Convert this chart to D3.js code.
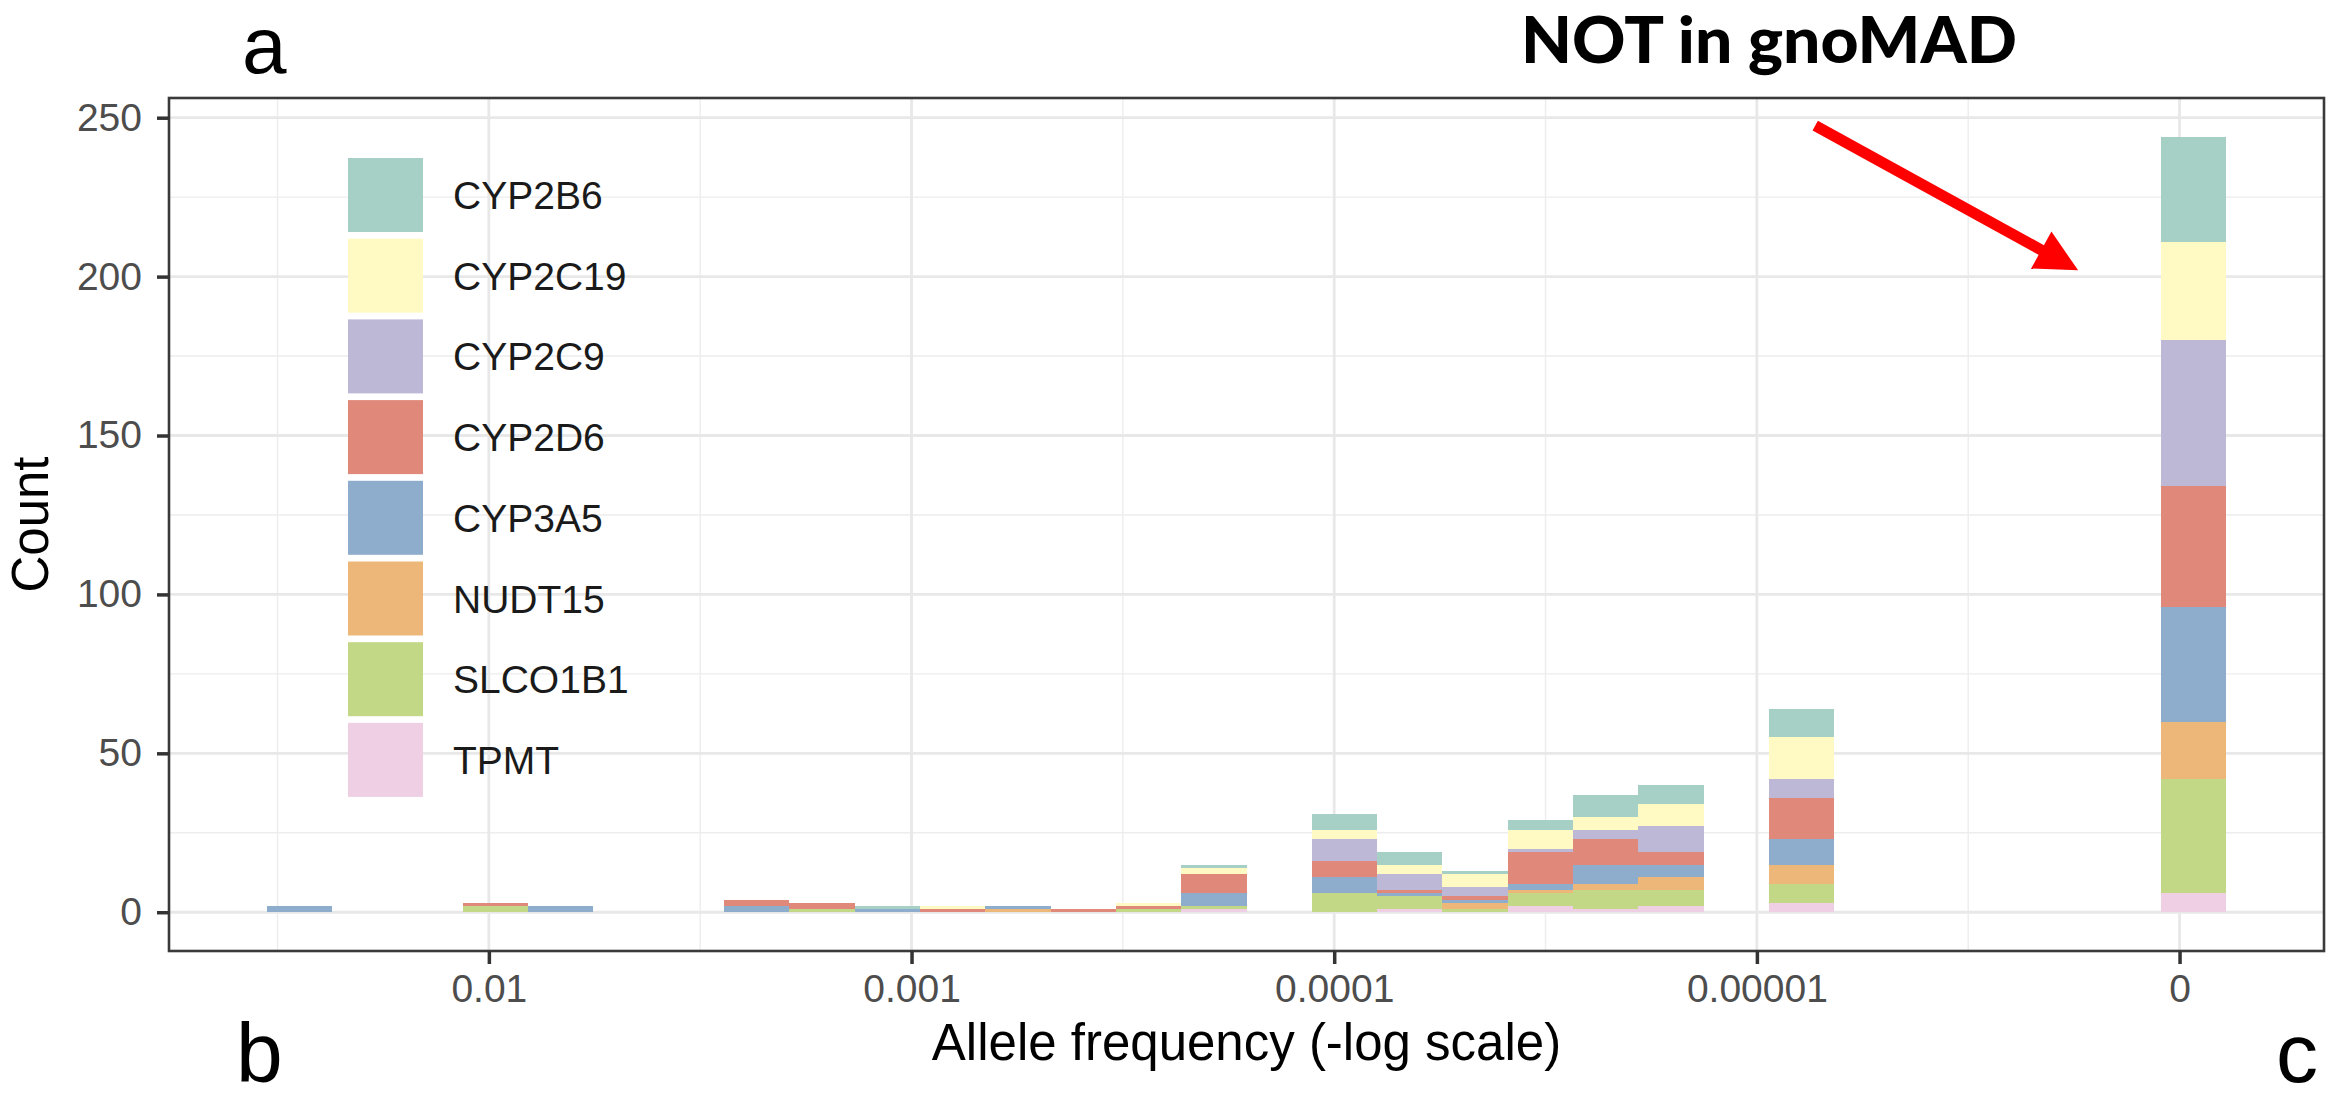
<!DOCTYPE html>
<html>
<head>
<meta charset="utf-8">
<script src="https://cdn.jsdelivr.net/npm/d3@7"></script>
<style>
  html, body { margin: 0; padding: 0; background: #ffffff; }
  svg { display: block; }
</style>
</head>
<body>
<div id="chart"></div>
<script>
// genes, legend order (top of stack first)
const genes = ['CYP2B6', 'CYP2C19', 'CYP2C9', 'CYP2D6', 'CYP3A5', 'NUDT15', 'SLCO1B1', 'TPMT'];
const geneColors = ['#a6cfc5', '#fff9c4', '#bdb8d6', '#e0897a', '#8eaccb', '#edb77a', '#c2d887', '#efcfe3'];

// histogram bins on -log10(allele frequency), 30 bins; the last one holds the variants not in gnoMAD
const binStart = 1.475;
const binWidth = 0.1545;

// counts per bin for each gene
const CYP2B6  = [0,0,0,0,0,0,0,0,0,1,0,0,0,0,1,0,5,4,1,3,7,6,0,9,0,0,0,0,0,33];
const CYP2C19 = [0,0,0,0,0,0,0,0,0,0,1,0,0,1,2,0,3,3,4,6,4,7,0,13,0,0,0,0,0,31];
const CYP2C9  = [0,0,0,0,0,0,0,0,0,0,0,0,0,0,0,0,7,5,3,1,3,8,0,6,0,0,0,0,0,46];
const CYP2D6  = [0,0,0,1,0,0,0,2,2,0,1,0,1,1,6,0,5,1,1,10,8,4,0,13,0,0,0,0,0,38];
const CYP3A5  = [2,0,0,0,2,0,0,2,0,1,0,1,0,0,4,0,5,1,1,2,6,4,0,8,0,0,0,0,0,36];
const NUDT15  = [0,0,0,0,0,0,0,0,0,0,0,1,0,0,0,0,0,0,2,1,2,4,0,6,0,0,0,0,0,18];
const SLCO1B1 = [0,0,0,2,0,0,0,0,1,0,0,0,0,1,1,0,6,4,1,4,6,5,0,6,0,0,0,0,0,36];
const TPMT    = [0,0,0,0,0,0,0,0,0,0,0,0,0,0,1,0,0,1,0,2,1,2,0,3,0,0,0,0,0,6];

// x ticks (-log10 value and label), y ticks
const xTickValues = [2, 3, 4, 5, 6];
const xTickLabels = ['0.01', '0.001', '0.0001', '0.00001', '0'];
const xMinorValues = [1.5, 2.5, 3.5, 4.5, 5.5];
const yTickValues = [0, 50, 100, 150, 200, 250];
const yMinorValues = [25, 75, 125, 175, 225];

const width = 2343;
const height = 1100;
const panel = { left: 169, right: 2324, top: 98, bottom: 951 };
const font = '"Liberation Sans", Arial, Helvetica, sans-serif';

const countsByGene = { CYP2B6, CYP2C19, CYP2C9, CYP2D6, CYP3A5, NUDT15, SLCO1B1, TPMT };
const color = d3.scaleOrdinal().domain(genes).range(geneColors);

const nBins = CYP2B6.length;
const table = d3.range(nBins).map(i => {
  const row = { x0: binStart + i * binWidth, x1: binStart + (i + 1) * binWidth };
  genes.forEach(g => { row[g] = countsByGene[g][i]; });
  return row;
});

// TPMT at the bottom, CYP2B6 on top
const series = d3.stack().keys(genes.slice().reverse())(table);

const xMin = binStart;
const xMax = binStart + nBins * binWidth;
const xPad = (xMax - xMin) * 0.05;
const yMaxData = d3.max(table, d => d3.sum(genes, g => d[g]));
const yPad = yMaxData * 0.05;

const x = d3.scaleLinear().domain([xMin - xPad, xMax + xPad]).range([panel.left, panel.right]);
const y = d3.scaleLinear().domain([-yPad, yMaxData + yPad]).range([panel.bottom, panel.top]);

const svg = d3.select('#chart')
  .append('svg')
  .attr('width', width)
  .attr('height', height)
  .attr('xmlns', 'http://www.w3.org/2000/svg')
  .style('font-family', font);

svg.append('rect').attr('width', width).attr('height', height).attr('fill', '#ffffff');

// grid
const grid = svg.append('g').attr('class', 'grid');
grid.selectAll('.x-minor')
  .data(xMinorValues)
  .join('line')
  .attr('x1', d => x(d)).attr('x2', d => x(d))
  .attr('y1', panel.top).attr('y2', panel.bottom)
  .attr('stroke', '#ededed').attr('stroke-width', 1.4);
grid.selectAll('.y-minor')
  .data(yMinorValues)
  .join('line')
  .attr('x1', panel.left).attr('x2', panel.right)
  .attr('y1', d => y(d)).attr('y2', d => y(d))
  .attr('stroke', '#ededed').attr('stroke-width', 1.4);
grid.append('g').selectAll('line')
  .data(xTickValues)
  .join('line')
  .attr('x1', d => x(d)).attr('x2', d => x(d))
  .attr('y1', panel.top).attr('y2', panel.bottom)
  .attr('stroke', '#e8e8e8').attr('stroke-width', 2.8);
grid.append('g').selectAll('line')
  .data(yTickValues)
  .join('line')
  .attr('x1', panel.left).attr('x2', panel.right)
  .attr('y1', d => y(d)).attr('y2', d => y(d))
  .attr('stroke', '#e8e8e8').attr('stroke-width', 2.8);

// stacked bars
const bars = svg.append('g').attr('class', 'bars');
bars.selectAll('g')
  .data(series)
  .join('g')
  .attr('fill', d => color(d.key))
  .selectAll('rect')
  .data(d => d.filter(s => s[1] > s[0]))
  .join('rect')
  .attr('x', d => x(d.data.x0))
  .attr('width', d => x(d.data.x1) - x(d.data.x0))
  .attr('y', d => y(d[1]))
  .attr('height', d => y(d[0]) - y(d[1]))
  .attr('shape-rendering', 'crispEdges');

// legend (inside panel)
const legend = svg.append('g').attr('class', 'legend').attr('transform', 'translate(348, 158)');
const keyStep = 80.7;
const legendItems = legend.selectAll('g')
  .data(genes)
  .join('g')
  .attr('transform', (d, i) => `translate(0, ${i * keyStep})`);
legendItems.append('rect')
  .attr('width', 75)
  .attr('height', 74)
  .attr('fill', d => color(d));
legendItems.append('text')
  .attr('x', 105)
  .attr('y', 37)
  .attr('dy', '0.36em')
  .attr('font-size', 39)
  .attr('fill', '#1a1a1a')
  .text(d => d);

// panel border
svg.append('rect')
  .attr('x', panel.left)
  .attr('y', panel.top)
  .attr('width', panel.right - panel.left)
  .attr('height', panel.bottom - panel.top)
  .attr('fill', 'none')
  .attr('stroke', '#3a3a3a')
  .attr('stroke-width', 2.6);

// axes
const xAxis = d3.axisBottom(x)
  .tickValues(xTickValues)
  .tickFormat((d, i) => xTickLabels[i])
  .tickSize(13)
  .tickPadding(10);
const gx = svg.append('g')
  .attr('transform', `translate(0, ${panel.bottom})`)
  .call(xAxis);
gx.select('.domain').remove();
gx.selectAll('.tick line').attr('stroke', '#333333').attr('stroke-width', 3.5);
gx.selectAll('.tick text')
  .attr('font-size', 39)
  .attr('font-family', font)
  .attr('fill', '#4d4d4d');

const yAxis = d3.axisLeft(y)
  .tickValues(yTickValues)
  .tickSize(12)
  .tickPadding(15);
const gy = svg.append('g')
  .attr('transform', `translate(${panel.left}, 0)`)
  .call(yAxis);
gy.select('.domain').remove();
gy.selectAll('.tick line').attr('stroke', '#333333').attr('stroke-width', 3.5);
gy.selectAll('.tick text')
  .attr('font-size', 39)
  .attr('font-family', font)
  .attr('fill', '#4d4d4d');

// axis titles
svg.append('text')
  .attr('x', (panel.left + panel.right) / 2)
  .attr('y', 1060)
  .attr('text-anchor', 'middle')
  .attr('font-size', 51)
  .attr('fill', '#000000')
  .text('Allele frequency (-log scale)');
svg.append('text')
  .attr('transform', `translate(48, ${(panel.top + panel.bottom) / 2}) rotate(-90)`)
  .attr('text-anchor', 'middle')
  .attr('font-size', 51)
  .attr('fill', '#000000')
  .text('Count');

// panel letters (kept inside the canvas edges)
svg.append('text').attr('x', 242).attr('y', 73).attr('font-size', 80).text('a');
svg.append('text').attr('x', 236).attr('y', 1082).attr('font-size', 84).text('b');
svg.append('text').attr('x', 2276).attr('y', 1082).attr('font-size', 84).text('c');

// annotation
svg.append('text')
  .attr('x', 1521)
  .attr('y', 63)
  .attr('font-family', 'Lato, "Open Sans", sans-serif')
  .attr('font-weight', 900)
  .attr('font-size', 64)
  .attr('textLength', 496)
  .attr('lengthAdjust', 'spacingAndGlyphs')
  .attr('fill', '#000000')
  .text('NOT in gnoMAD');

const arrowFrom = [5.138, 247.5];
const arrowTo = [5.76, 202];
const ax0 = x(arrowFrom[0]), ay0 = y(arrowFrom[1]);
const ax1 = x(arrowTo[0]), ay1 = y(arrowTo[1]);
const ang = Math.atan2(ay1 - ay0, ax1 - ax0);
const headLen = 42, headHalf = 21;
const bx = ax1 - headLen * Math.cos(ang), by = ay1 - headLen * Math.sin(ang);
svg.append('line')
  .attr('x1', ax0).attr('y1', ay0)
  .attr('x2', bx + 2 * Math.cos(ang)).attr('y2', by + 2 * Math.sin(ang))
  .attr('stroke', '#ff0000')
  .attr('stroke-width', 11);
svg.append('path')
  .attr('d', d3.line()([
    [ax1, ay1],
    [bx - headHalf * Math.sin(ang), by + headHalf * Math.cos(ang)],
    [bx + headHalf * Math.sin(ang), by - headHalf * Math.cos(ang)]
  ]) + 'Z')
  .attr('fill', '#ff0000');
</script>
</body>
</html>
